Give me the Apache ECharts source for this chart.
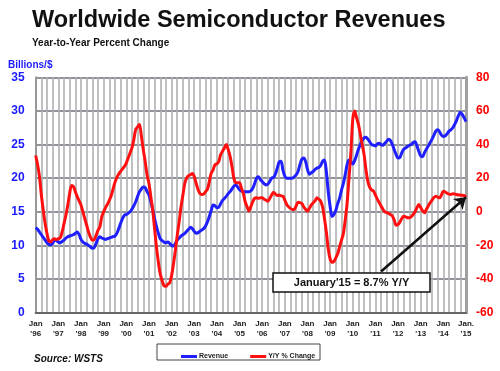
<!DOCTYPE html>
<html>
<head>
<meta charset="utf-8">
<script src="https://cdn.jsdelivr.net/npm/echarts@6/dist/echarts.min.js"></script>
<style>
html,body{margin:0;padding:0;background:#fff;}
#c{width:500px;height:371px;}
</style>
</head>
<body>
<div id="c"></div>
<script>
// Monthly, Jan 1996 .. Jan 2015
const startYear = 1996;
const revenue = [
  12.65, 12.4, 12.0, 11.6, 11.2, 10.8, 10.4, 10.15, 10.1, 10.3, 10.8, 10.7,   // 1996
  10.5, 10.4, 10.6, 10.8, 11.1, 11.3, 11.4, 11.5, 11.6, 11.8, 12.0, 11.6,     // 1997
  10.9, 10.5, 10.3, 10.2, 10.0, 9.8, 9.6, 9.7, 10.3, 11.0, 11.3, 11.1,        // 1998
  11.0, 10.9, 11.0, 11.1, 11.2, 11.3, 11.4, 11.8, 12.5, 13.3, 14.0, 14.5,     // 1999
  14.6, 14.8, 15.0, 15.4, 15.9, 16.5, 17.3, 18.0, 18.4, 18.7, 18.6, 18.0,     // 2000
  17.5, 16.5, 15.3, 14.0, 12.8, 11.8, 11.0, 10.7, 10.5, 10.4, 10.5, 10.3,     // 2001
  10.0, 9.9, 10.3, 10.8, 11.1, 11.4, 11.6, 11.8, 12.1, 12.4, 12.7, 12.5,      // 2002
  12.1, 11.8, 11.9, 12.1, 12.3, 12.5, 12.9, 13.5, 14.3, 15.2, 16.0, 15.9,     // 2003
  15.6, 15.7, 16.2, 16.7, 17.0, 17.3, 17.7, 18.0, 18.4, 18.8, 19.0, 18.7,     // 2004
  18.3, 18.1, 18.0, 18.0, 18.0, 18.0, 18.1, 18.5, 19.2, 20.0, 20.2, 19.8,     // 2005
  19.5, 19.2, 19.0, 19.1, 19.5, 20.0, 20.1, 20.6, 21.5, 22.4, 22.5, 21.2,     // 2006
  20.3, 20.0, 20.0, 20.0, 20.0, 20.2, 20.5, 21.0, 22.0, 22.8, 23.0, 22.5,     // 2007
  21.3, 20.6, 20.8, 21.0, 21.3, 21.5, 21.6, 21.9, 22.5, 22.7, 21.0, 18.0,     // 2008
  15.8, 14.3, 14.6, 15.2, 16.2, 17.0, 18.2, 19.2, 20.5, 22.0, 22.7, 22.5,     // 2009
  22.1, 22.6, 23.4, 24.3, 25.0, 25.6, 26.0, 26.1, 25.8, 25.4, 25.0, 24.9,     // 2010
  24.8, 25.1, 25.2, 25.0, 24.9, 25.2, 25.5, 25.8, 25.6, 25.0, 24.2, 23.5,     // 2011
  23.0, 23.1, 23.8, 24.3, 24.5, 24.7, 24.9, 25.0, 25.3, 25.4, 24.8, 24.0,     // 2012
  23.3, 23.2, 23.8, 24.3, 24.8, 25.3, 25.8, 26.4, 27.0, 27.2, 26.9, 26.4,     // 2013
  26.2, 26.3, 26.6, 27.0, 27.2, 27.5, 28.0, 28.6, 29.3, 29.8, 29.5, 29.0,     // 2014
  28.4                                                                          // 2015
];
const yoyChange = [
  33.5, 28, 21, 10, 1, -7, -13, -17.5, -17.8, -16.5, -16, -16.5,             // 1996
  -16, -15.5, -12, -7, -2, 4, 11, 15.7, 15, 12, 9, 6.5,                       // 1997
  4, 0, -4, -8, -12, -15, -16.9, -16.5, -14, -11, -9, -3,                     // 1998
  0, 2.5, 4.5, 6.8, 9.5, 13.5, 17.5, 20.5, 22.5, 24, 25.5, 27,                // 1999
  29, 32, 35, 38, 43, 49, 50.5, 52, 45, 37, 30, 22,                           // 2000
  17, 9, 1, -10, -21, -30, -37, -41, -44, -44.3, -43, -42.3,                  // 2001
  -38, -31, -23, -14, -6, 3, 10, 17, 20, 21.5, 22, 22.8,                      // 2002
  21, 17, 13.3, 11, 10.3, 10.5, 12, 13.5, 18, 23, 25, 28,                     // 2003
  28.5, 30, 34, 36, 38, 40, 37, 33, 27, 20, 17.3, 17.3,                       // 2004
  17.3, 14, 11, 6, 3, 0.5, 3, 6, 8, 8.3, 8, 8.3,                              // 2005
  8.3, 7.5, 7, 6.3, 8, 10, 11.7, 10.5, 9.7, 10, 9.5, 9.3,                     // 2006
  7, 4.3, 3, 2, 1.4, 1.5, 3.5, 5.7, 5.5, 4.9, 3, 1.5,                         // 2007
  0.4, 2, 4, 5.4, 6.5, 8.3, 7.5, 6.3, 3, -4, -12, -22,                        // 2008
  -28, -30, -29.5, -27.4, -25, -21, -17, -13, -5, 5, 20, 35,                  // 2009
  55, 60, 56, 52, 46, 40, 34, 25, 18, 14.5, 13, 12.3,                         // 2010
  10, 7.5, 5.5, 3.5, 1.5, 0, -0.5, -1, -1.6, -2.5, -5, -8,                    // 2011
  -7.5, -6, -4, -2.6, -3, -3.5, -3.6, -2.8, -1.6, 0, 2.5, 4.3,                // 2012
  2.5, 0.5, -0.6, 1.5, 3.5, 5.4, 7, 8.5, 9.3, 8.8, 8.3, 10,                   // 2013
  12.3, 11.8, 11, 10.5, 10.3, 10.8, 10.5, 10.3, 10, 10, 9.8, 9.7,             // 2014
  8.7                                                                          // 2015
];
const tickLabels = ["Jan\n'96","Jan\n'97","Jan\n'98","Jan\n'99","Jan\n'00","Jan\n'01","Jan\n'02",
  "Jan\n'03","Jan\n'04","Jan\n'05","Jan\n'06","Jan\n'07","Jan\n'08","Jan\n'09","Jan\n'10",
  "Jan\n'11","Jan\n'12","Jan\n'13","Jan\n'14","Jan.\n'15"];
const leftTicks = {min: 0, max: 35, interval: 5};
const rightTicks = {min: -60, max: 80, interval: 20};
const annotationText = "January'15 = 8.7% Y/Y";
const arrowStart = [183, -35.5]; // month index, % (annotation anchor)

const months = revenue.map((_, i) => (startYear + Math.floor(i / 12)) + '-' + String(i % 12 + 1).padStart(2, '0'));
const FONT = 'Liberation Sans, Arial, sans-serif';
const last = yoyChange.length - 1;

const chart = echarts.init(document.getElementById('c'), null, {renderer: 'canvas'});
chart.setOption({
  animation: false,
  backgroundColor: '#fff',
  textStyle: {fontFamily: FONT},
  title: [
    {text: 'Worldwide Semiconductor Revenues', left: 32, top: 9, padding: 0,
     textStyle: {fontFamily: FONT, fontSize: 23.5, fontWeight: 'bold', color: '#111'}},
    {text: 'Year-to-Year Percent Change', left: 32, top: 38, padding: 0,
     textStyle: {fontFamily: FONT, fontSize: 10, fontWeight: 'bold', color: '#111'}},
    {text: 'Billions/$', left: 8, top: 60, padding: 0,
     textStyle: {fontFamily: FONT, fontSize: 10, fontWeight: 'bold', color: '#1a1aff'}},
    {text: 'Source: WSTS', left: 34, top: 354, padding: 0,
     textStyle: {fontFamily: FONT, fontSize: 10, fontWeight: 'bold', fontStyle: 'italic', color: '#111'}}
  ],
  grid: {left: 35.7, right: 34, top: 77.3, bottom: 58.3, containLabel: false},
  legend: {
    left: 176, top: 348, itemWidth: 16, itemHeight: 3, icon: 'rect', itemGap: 22,
    textStyle: {fontFamily: FONT, fontSize: 7, fontWeight: 'bold', color: '#222', padding: [0,0,0,-3]},
    data: ['Revenue', 'Y/Y % Change']
  },
  xAxis: {
    type: 'category', data: months, boundaryGap: false,
    axisLine: {show: true, lineStyle: {color: '#666', width: 2}},
    axisTick: {show: false},
    axisLabel: {
      interval: 11, margin: 6, fontSize: 8, fontWeight: 'bold', color: '#222', lineHeight: 10,
      formatter: (v, i) => tickLabels[Math.round(i / 12)]
    },
    splitLine: {show: true, interval: 2, lineStyle: {color: '#b0b0b0', width: 1.6}}
  },
  yAxis: [
    {type: 'value', min: leftTicks.min, max: leftTicks.max, interval: leftTicks.interval, position: 'left',
     axisLine: {show: true, lineStyle: {color: '#999', width: 2}}, axisTick: {show: false},
     axisLabel: {margin: 11, fontSize: 12, fontWeight: 'bold', color: '#1a1aff'},
     splitLine: {show: true, lineStyle: {color: '#6e6e7a', width: 1.5}}},
    {type: 'value', min: rightTicks.min, max: rightTicks.max, interval: rightTicks.interval, position: 'right',
     axisLine: {show: true, lineStyle: {color: '#a0a0a0', width: 3}}, axisTick: {show: false},
     axisLabel: {margin: 10, fontSize: 12, fontWeight: 'bold', color: '#ff0000'},
     splitLine: {show: false}}
  ],
  series: [
    {name: 'Revenue', type: 'line', data: revenue, yAxisIndex: 0, symbol: 'none', smooth: 0.3,
     lineStyle: {color: '#1f1fff', width: 3}, itemStyle: {color: '#1f1fff'}, z: 3},
    {name: 'Y/Y % Change', type: 'line', data: yoyChange, yAxisIndex: 1, symbol: 'none', smooth: 0.3,
     lineStyle: {color: '#ff1010', width: 3}, itemStyle: {color: '#ff1010'}, z: 4,
     markLine: {
       silent: true, symbol: ['none', 'arrow'], symbolSize: 11,
       label: {show: false},
       lineStyle: {color: '#111', width: 2.5, type: 'solid'},
       data: [[{coord: [months[arrowStart[0]], arrowStart[1]]}, {coord: [months[last], yoyChange[last]]}]]
     }}
  ],
  graphic: [
    {type: 'rect', shape: {x: 157, y: 344, width: 163, height: 16}, style: {fill: '#fff', stroke: '#444', lineWidth: 1}, z: 0},
    {type: 'rect', z: 100, zlevel: 1, shape: {x: 273, y: 273, width: 157, height: 19}, style: {fill: '#fff', stroke: '#111', lineWidth: 1.5}},
    {type: 'text', z: 101, zlevel: 1, style: {text: annotationText, x: 351.5, y: 282.5, textAlign: 'center', textVerticalAlign: 'middle',
        font: 'bold 11px ' + FONT, fill: '#111'}}
  ]
});
</script>
</body>
</html>
